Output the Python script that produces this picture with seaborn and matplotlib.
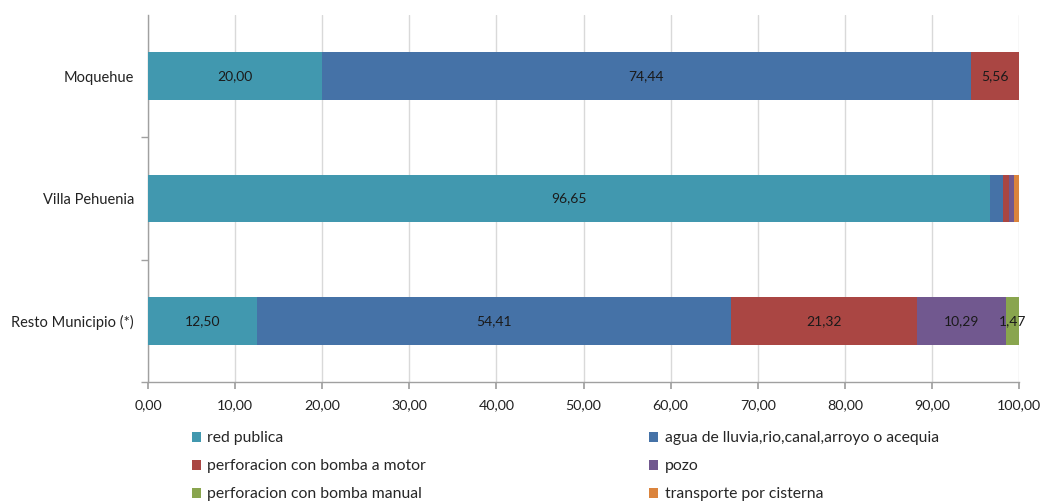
import numpy as np
import pandas as pd
import matplotlib
matplotlib.use("Agg")
import matplotlib.pyplot as plt
import seaborn as sns
from matplotlib.patches import Patch

categories = ["Moquehue", "Villa Pehuenia", "Resto Municipio (*)"]
series_names = [
    "red publica",
    "agua de lluvia,rio,canal,arroyo o acequia",
    "perforacion con bomba a motor",
    "pozo",
    "perforacion con bomba manual",
    "transporte por cisterna",
]
red_publica = [20.00, 96.65, 12.50]
agua_lluvia = [74.44, 1.49, 54.41]
bomba_motor = [5.56, 0.74, 21.32]
pozo = [0.00, 0.56, 10.29]
bomba_manual = [0.00, 0.00, 1.47]
cisterna = [0.00, 0.56, 0.00]
x_ticks = [0, 10, 20, 30, 40, 50, 60, 70, 80, 90, 100]

colors = ["#4198AF", "#4572A7", "#AA4643", "#71588F", "#89A54E", "#DB843D"]
series = [red_publica, agua_lluvia, bomba_motor, pozo, bomba_manual, cisterna]
# categories whose thin segments carry no value label
unlabeled_small = {"Villa Pehuenia"}

sns.set_theme(style="white")
plt.rcParams["font.family"] = ["Lato", "DejaVu Sans"]

fig = plt.figure(figsize=(10.42, 5.01), dpi=100)
ax = fig.add_axes([0.142, 0.2375, 0.836, 0.7325])

values = np.array(series)
cum = np.cumsum(values, axis=0)

# stacked bars: draw cumulative totals from the outermost segment inward
for i in range(len(series) - 1, -1, -1):
    df = pd.DataFrame({"cat": categories, "val": cum[i]})
    sns.barplot(data=df, x="val", y="cat", orient="h", color=colors[i],
                saturation=1, width=0.39, ax=ax, zorder=3, linewidth=0)

# value labels centred in each segment
for i in range(len(series)):
    for j, cat in enumerate(categories):
        v = values[i, j]
        if v <= 0 or (cat in unlabeled_small and v < 5):
            continue
        xc = cum[i, j] - v / 2
        ax.text(xc, j, f"{v:.2f}".replace(".", ","), ha="center",
                va="center", fontsize=10, color="#1a1a1a", zorder=5)

ax.set_xlim(0, 100)
ax.set_ylim(2.5, -0.5)
ax.set_xticks(x_ticks)
ax.set_xticklabels([f"{t:.2f}".replace(".", ",") for t in x_ticks],
                   fontsize=10.3, color="#222222")
ax.set_yticks(range(len(categories)))
ax.set_yticklabels(categories, fontsize=10.5, color="#222222")
ax.set_xlabel("")
ax.set_ylabel("")

ax.grid(axis="x", color="#D9D9D9", linewidth=1, zorder=0)
ax.grid(axis="y", visible=False)
for s in ["top", "right"]:
    ax.spines[s].set_visible(False)
for s in ["left", "bottom"]:
    ax.spines[s].set_color("#A0A0A0")
    ax.spines[s].set_linewidth(1)

ax.tick_params(axis="x", which="major", direction="out", length=5,
               color="#A0A0A0", pad=7, bottom=True)
ax.tick_params(axis="y", which="major", length=0, pad=10)
ax.set_yticks([0.5, 1.5, 2.5], minor=True)
ax.tick_params(axis="y", which="minor", direction="out", length=5,
               color="#A0A0A0", left=True)

# legend entries laid out row by row in two columns
order = [0, 2, 4, 1, 3, 5]
handles = [Patch(facecolor=colors[k], edgecolor="none") for k in order]
labels = [series_names[k] for k in order]
fig.legend(handles, labels, loc="upper left",
           bbox_to_anchor=(0.178, 0.152), ncol=2, frameon=False,
           fontsize=11.3, handlelength=0.6, handleheight=0.6,
           handletextpad=0.4, columnspacing=14.2, labelspacing=0.9,
           borderaxespad=0)

fig.savefig("out.png", dpi=100)
